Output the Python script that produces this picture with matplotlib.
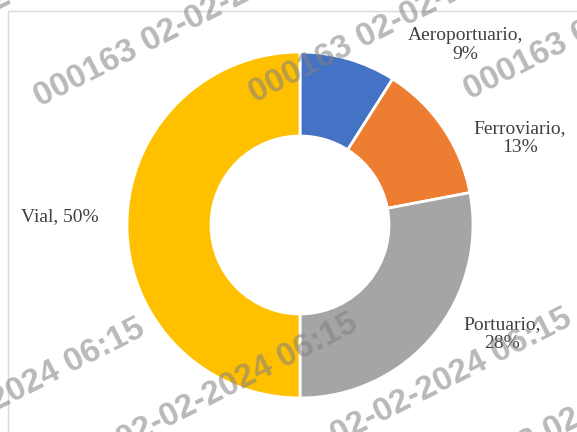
import matplotlib
matplotlib.use("Agg")
import matplotlib.pyplot as plt
from matplotlib.patches import Rectangle

# datos del gráfico (sentido horario desde arriba)
categorias = ["Aeroportuario", "Ferroviario", "Portuario", "Vial"]
porcentajes = [9, 13, 28, 50]
colores = ["#4472C4", "#ED7D31", "#A5A5A5", "#FFC000"]
etiquetas = ["Aeroportuario,\n9%", "Ferroviario,\n13%", "Portuario,\n28%", "Vial, 50%"]

marca_agua = "000163 02-02-2024 06:15"

W, H = 577, 432

def main():
    fig = plt.figure(figsize=(W / 100, H / 100), dpi=100)
    ax = fig.add_axes([0, 0, 1, 1])

    # marco del área del gráfico
    ax.add_patch(Rectangle((8, -10), W, H - 11 + 10, fill=False,
                           edgecolor="#D9D9D9", linewidth=1))

    cx, cy, r = 300, H - 225, 173
    ax.pie(porcentajes, colors=colores, startangle=90, counterclock=False,
           center=(cx, cy), radius=r, frame=True,
           wedgeprops=dict(width=r - 89, edgecolor="white", linewidth=2))
    ax.set_xlim(0, W)
    ax.set_ylim(0, H)
    ax.set_aspect("equal")
    ax.axis("off")

    # posiciones de las etiquetas (px desde arriba-izquierda)
    pos = [(465, 45), (520, 138), (502, 334), (60, 217)]
    for txt, (x, y) in zip(etiquetas, pos):
        ax.text(x, H - y, txt, ha="center", va="center", fontsize=14,
                family="Liberation Serif", color="#404040", linespacing=1.1)

    # marca de agua
    inicios = [(-198, 110), (40, 107), (255, 103), (470, 100),
               (-198, 510), (15, 505), (229, 500), (442, 496)]
    for x, y in inicios:
        ax.text(x, H - y, marca_agua, rotation=27, rotation_mode="anchor",
                ha="left", va="baseline", fontsize=24, fontweight="bold",
                family="Liberation Sans", color="#808080", alpha=0.55,
                zorder=10, clip_on=False)

    fig.savefig("out.png", dpi=100)

if __name__ == "__main__":
    main()
